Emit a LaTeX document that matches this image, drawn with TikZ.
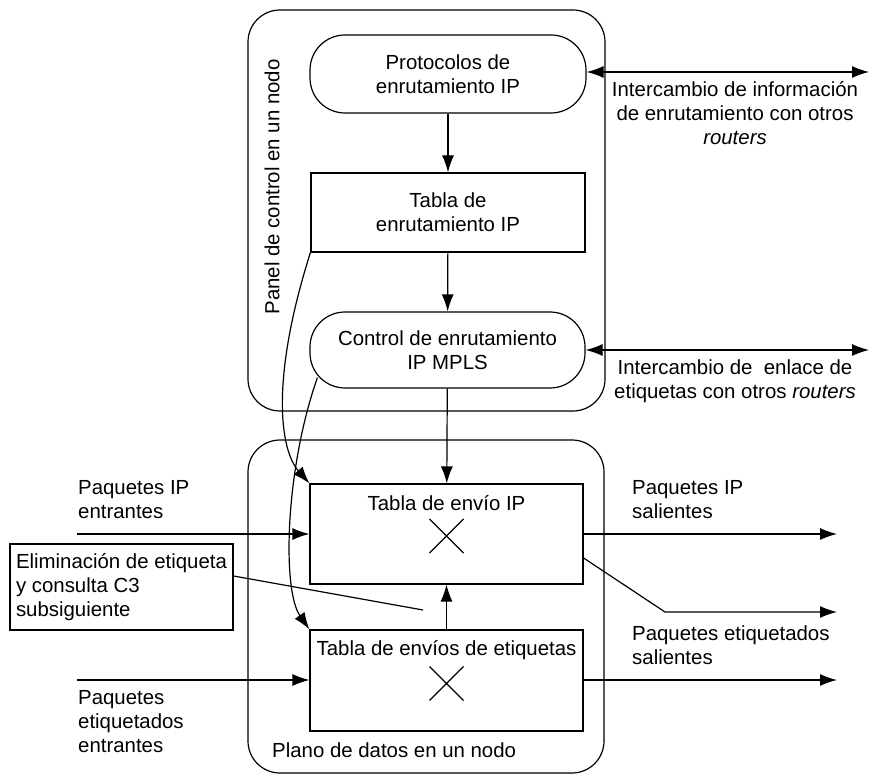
\documentclass[tikz,border=0pt]{standalone}
\usepackage{fontspec}
\setmainfont{Liberation Sans}
\usetikzlibrary{arrows.meta}
\begin{document}
\begin{tikzpicture}[x=1pt,y=-1pt,
  every node/.style={font=\fontsize{20.4}{24}\selectfont, inner sep=0pt},
  panel/.style={draw, line width=1.2pt, rounded corners=32pt},
  roundbox/.style={draw, line width=1.2pt, rounded corners=35pt, align=center},
  sqbox/.style={draw, line width=1.2pt, align=center},
  txt/.style={align=left, anchor=west},
  ctxt/.style={align=center},
  conn/.style={line width=1.2pt},
  arr/.style={line width=1.2pt, -{Latex[length=17pt,width=12pt]}},
  darr/.style={line width=1.2pt, {Latex[length=17pt,width=12pt]}-{Latex[length=17pt,width=12pt]}}
]
\useasboundingbox (0,0) rectangle (870,775);

% containers
\node[panel, minimum width=357pt, minimum height=401pt] (cpanel) at (426.5,210.5) {};
\node[panel, minimum width=356pt, minimum height=333pt] (dpanel) at (426,606.5) {};
\node[rotate=90] (cplabel) at (272,187) {Panel de control en un nodo};
\node[txt] (dplabel) at (272,750) {Plano de datos en un nodo};

% control plane
\node[roundbox, minimum width=276pt, minimum height=78pt] (proto) at (448,74)
  {Protocolos de\\enrutamiento IP};
\node[sqbox, minimum width=274pt, minimum height=79pt] (tab) at (448,212.5)
  {Tabla de\\enrutamiento IP};
\node[roundbox, minimum width=275pt, minimum height=76pt] (ctl) at (447.5,350)
  {Control de enrutamiento\\IP MPLS};

% data plane
\node[sqbox, minimum width=273pt, minimum height=100pt] (ipf) at (446.5,534) {};
\node (ipft) at (446.5,503) {Tabla de env\'io IP};
\node[sqbox, minimum width=273pt, minimum height=101pt] (lft) at (446.5,680.5) {};
\node (lftt) at (446.5,650) {Tabla de env\'ios de etiquetas};

\draw[conn] ([shift={(-17,-15)}]ipf.center) -- ([shift={(17,19)}]ipf.center)
            ([shift={(-17,19)}]ipf.center) -- ([shift={(17,-15)}]ipf.center);
\draw[conn] ([shift={(-17,-14)}]lft.center) -- ([shift={(17,20)}]lft.center)
            ([shift={(-17,20)}]lft.center) -- ([shift={(17,-14)}]lft.center);

\node[sqbox, align=left, minimum width=223pt, minimum height=86pt] (elim) at (121.5,587)
  {Eliminaci\'on de etiqueta\\y consulta C3\\subsiguiente};

% labels
\node[ctxt] (l1) at (735,113) {Intercambio de informaci\'on\\de enrutamiento con otros\\\textit{routers}};
\node[ctxt] (l2) at (735,381) {Intercambio de \ enlace de\\etiquetas con otros \textit{routers}};
\node[txt] (l3) at (78,500) {Paquetes IP\\entrantes};
\node[txt] (l4) at (78,722) {Paquetes\\etiquetados\\entrantes};
\node[txt] (l5) at (632,500) {Paquetes IP\\salientes};
\node[txt] (l6) at (632,645) {Paquetes etiquetados\\salientes};

% free ends
\coordinate (ext1) at (869,72);
\coordinate (ext2) at (869,350);
\coordinate (in1) at (77,534);
\coordinate (in2) at (77,680);
\coordinate (out1) at (837,534);
\coordinate (out2) at (837,612);
\coordinate (out3) at (837,680);
\coordinate (bend) at (665,612);
\coordinate (elimend) at (423,610);

% control plane connectors
\draw[arr] (proto) -- (tab);
\draw[arr] (tab) -- (ctl);
\draw[arr] (ctl) -- (ipf);
\draw[darr] (proto.east |- ext1) -- (ext1);
\draw[darr] (ctl.east) -- (ext2);

% control to data plane curves
\draw[arr] (tab.south west) .. controls (270,380) and (280,450) .. (ipf.north west);
\draw[arr] ([xshift=8pt,yshift=11pt]ctl.south west) .. controls (285,470) and (282,590) .. (lft.north west);

% data plane connectors
\draw[arr] (lft) -- (ipf);
\draw[arr] (in1) -- (in1 -| ipf.west);
\draw[arr] (in2) -- (in2 -| lft.west);
\draw[arr] (ipf.east |- out1) -- (out1);
\draw[arr] (lft.east |- out3) -- (out3);
\draw[arr] ([yshift=-24pt]ipf.east) -- (bend) -- (out2);
\draw[conn] ([yshift=11pt]elim.east) -- (elimend);
\end{tikzpicture}
\end{document}
